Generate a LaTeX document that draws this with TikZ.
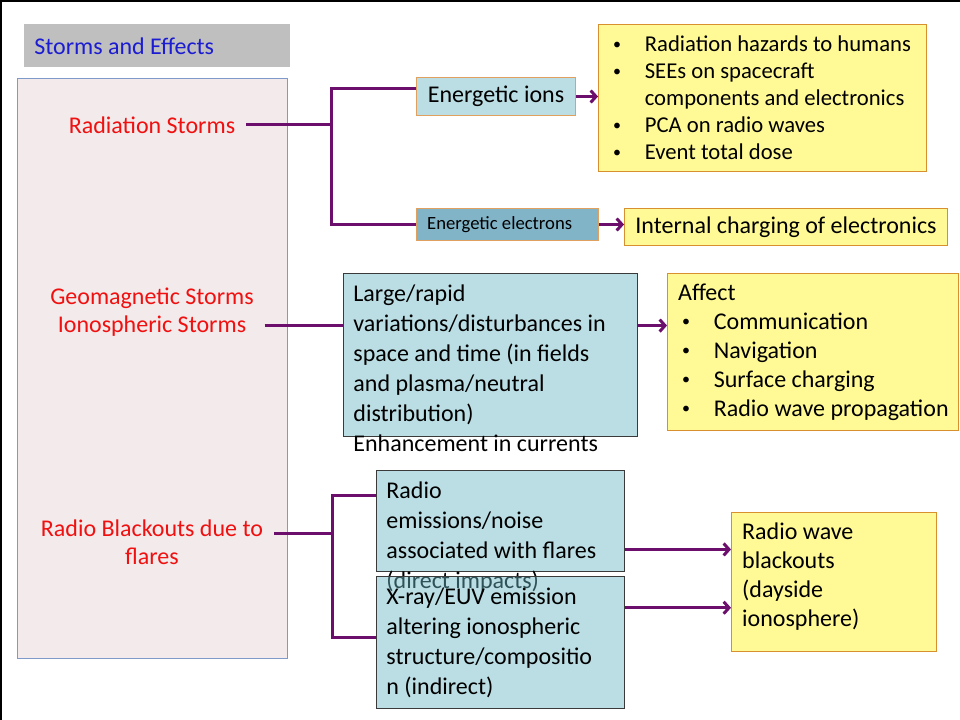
\documentclass[tikz,border=0pt]{standalone}
\usepackage{fontspec}
\setmainfont{Carlito}
\usetikzlibrary{arrows.meta}
\hyphenpenalty=10000
\exhyphenpenalty=10000

\definecolor{titlegray}{HTML}{BFBFBF}
\definecolor{titleblue}{HTML}{1C1CD2}
\definecolor{panelpink}{HTML}{F2EAEB}
\definecolor{panelblue}{HTML}{7F9AC8}
\definecolor{stormred}{HTML}{F01010}
\definecolor{causeblue}{HTML}{BBDEE4}
\definecolor{xrayblue}{HTML}{68B6C3}
\definecolor{causeline}{HTML}{3A3A3A}
\definecolor{electronblue}{HTML}{82B4C8}
\definecolor{particleline}{HTML}{E0A060}
\definecolor{effectyellow}{HTML}{FFFA96}
\definecolor{effectorange}{HTML}{D8902E}
\definecolor{linkpurple}{HTML}{6C0F6C}

\newcommand{\bul}{\makebox[26.75pt][l]{\hspace{3pt}\raisebox{0.12em}{\fontsize{12}{12}\selectfont\textbullet}}}
\newcommand{\topbox}[3]{\parbox[c][#2][t]{#1}{\raggedright\strut #3}}

\begin{document}
\begin{tikzpicture}[x=0.75pt, y=-0.75pt,
  every node/.style = {inner sep=0pt, anchor=north west, font=\fontsize{18}{22.5}\selectfont},
  heading/.style = {fill=titlegray, text=titleblue, minimum height=32.25pt, inner xsep=7.5pt,
    text width=184.5pt, align=flush left},
  panel/.style = {fill=panelpink, draw=panelblue, line width=0.75pt, minimum width=202.5pt, minimum height=435pt},
  storm/.style = {text=stormred, align=center, anchor=center, inner sep=8pt, font=\fontsize{18}{21}\selectfont},
  particle/.style = {fill=causeblue, draw=particleline, line width=0.75pt, align=center},
  cause/.style = {fill=causeblue, draw=causeline, line width=0.6pt, inner xsep=7.5pt, inner ysep=5pt},
  effect/.style = {fill=effectyellow, draw=effectorange, line width=0.75pt, inner xsep=8pt, inner ysep=5pt},
  link/.style = {draw=linkpurple, line width=2.25pt},
  arrow/.style = {link, -{Straight Barb[length=4pt, width=9pt]}}]

  \useasboundingbox (0,0) rectangle (960,720);
  \draw[line width=1.5pt] (1,720) -- (1,1) -- (960,1);

  % left column
  \node[heading] (title) at (24,24) {Storms and Effects};
  \node[panel] (panel) at (17,78) {};
  \node[storm] (rad) at (152,125) {Radiation Storms};
  \node[storm] (geo) at (152,312) {Geomagnetic Storms\\Ionospheric Storms};
  \node[storm] (blk) at (152,542) {Radio Blackouts due to\\flares};

  % causes
  \node[particle, minimum width=119.25pt, minimum height=28.5pt] (ions) at (416,77) {Energetic ions};
  \node[particle, fill=electronblue, font=\fontsize{14}{17}\selectfont, inner xsep=8pt,
    text width=120.5pt, minimum height=24pt, align=flush left] (elec) at (416,208) {Energetic electrons};
  \node[cause] (big) at (343,273) {\topbox{205.5pt}{112.25pt}{Large/rapid\\variations/disturbances in\\space and time (in fields\\and plasma/neutral\\distribution)\\Enhancement in currents}};
  \node[cause] (emis) at (376,470) {\topbox{171pt}{65.75pt}{Radio\\emissions/noise\\associated with flares\\(direct impacts)}};
  \node[cause, fill=xrayblue, fill opacity=0.45, text opacity=1] (xray) at (376,576)
    {\topbox{171pt}{89pt}{X-ray/EUV emission\\altering ionospheric\\structure/compositio\\n (indirect)}};

  % effects
  \node[effect, font=\fontsize{17}{20.25}\selectfont, minimum height=110.25pt, text width=230.25pt, align=flush left] (haz) at (598,24)
    {\bul\mbox{Radiation hazards to humans}\\ \bul SEEs on spacecraft\\ \hspace*{26.75pt}\mbox{components and electronics}\\
     \bul PCA on radio waves\\ \bul Event total dose};
  \node[effect, inner sep=0pt, minimum width=242.25pt, minimum height=27.75pt, align=center] (chg) at (624,208)
    {Internal charging of electronics};
  \node[effect, font=\fontsize{18}{21.75}\selectfont, minimum height=117.75pt, text width=202.25pt, align=flush left] (aff) at (667,273)
    {Affect\\ \bul Communication\\ \bul Navigation\\ \bul Surface charging\\ \bul\mbox{Radio wave propagation}};
  \node[effect, font=\fontsize{18}{21.75}\selectfont] (rwb) at (731,512)
    {\topbox{137.75pt}{94.25pt}{Radio wave\\blackouts\\(dayside\\ionosphere)}};

  % connectors
  \coordinate (rfork) at (331,127);
  \coordinate (bfork) at (332,533);
  \coordinate (gin) at ([yshift=22pt]big.west);
  \coordinate (gout) at ([yshift=22pt]big.east);
  \coordinate (etop) at ([yshift=19pt]emis.west);
  \coordinate (xbot) at ([yshift=3.75pt]xray.west);
  \coordinate (eout) at ([yshift=-21.4pt]emis.east);
  \coordinate (xout) at ([yshift=26pt]xray.east);

  \draw[link] (rad.east) -- (rad.east -| rfork);
  \draw[link] ([yshift=6pt]ions.west) -| (rfork |- elec.west) -- (elec.west);
  \draw[arrow] (ions.east) -- (ions.east -| haz.west);
  \draw[arrow] (elec.east) -- (elec.east -| chg.west);
  \draw[link] (gin -| geo.east) -- (gin);
  \draw[arrow] (gout) -- (gout -| aff.west);
  \draw[link] (blk.east |- bfork) -- (bfork);
  \draw[link] (etop) -| (bfork |- xbot) -- (xbot);
  \draw[arrow] (eout) -- (eout -| rwb.west);
  \draw[arrow] (xout) -- (xout -| rwb.west);
\end{tikzpicture}
\end{document}
